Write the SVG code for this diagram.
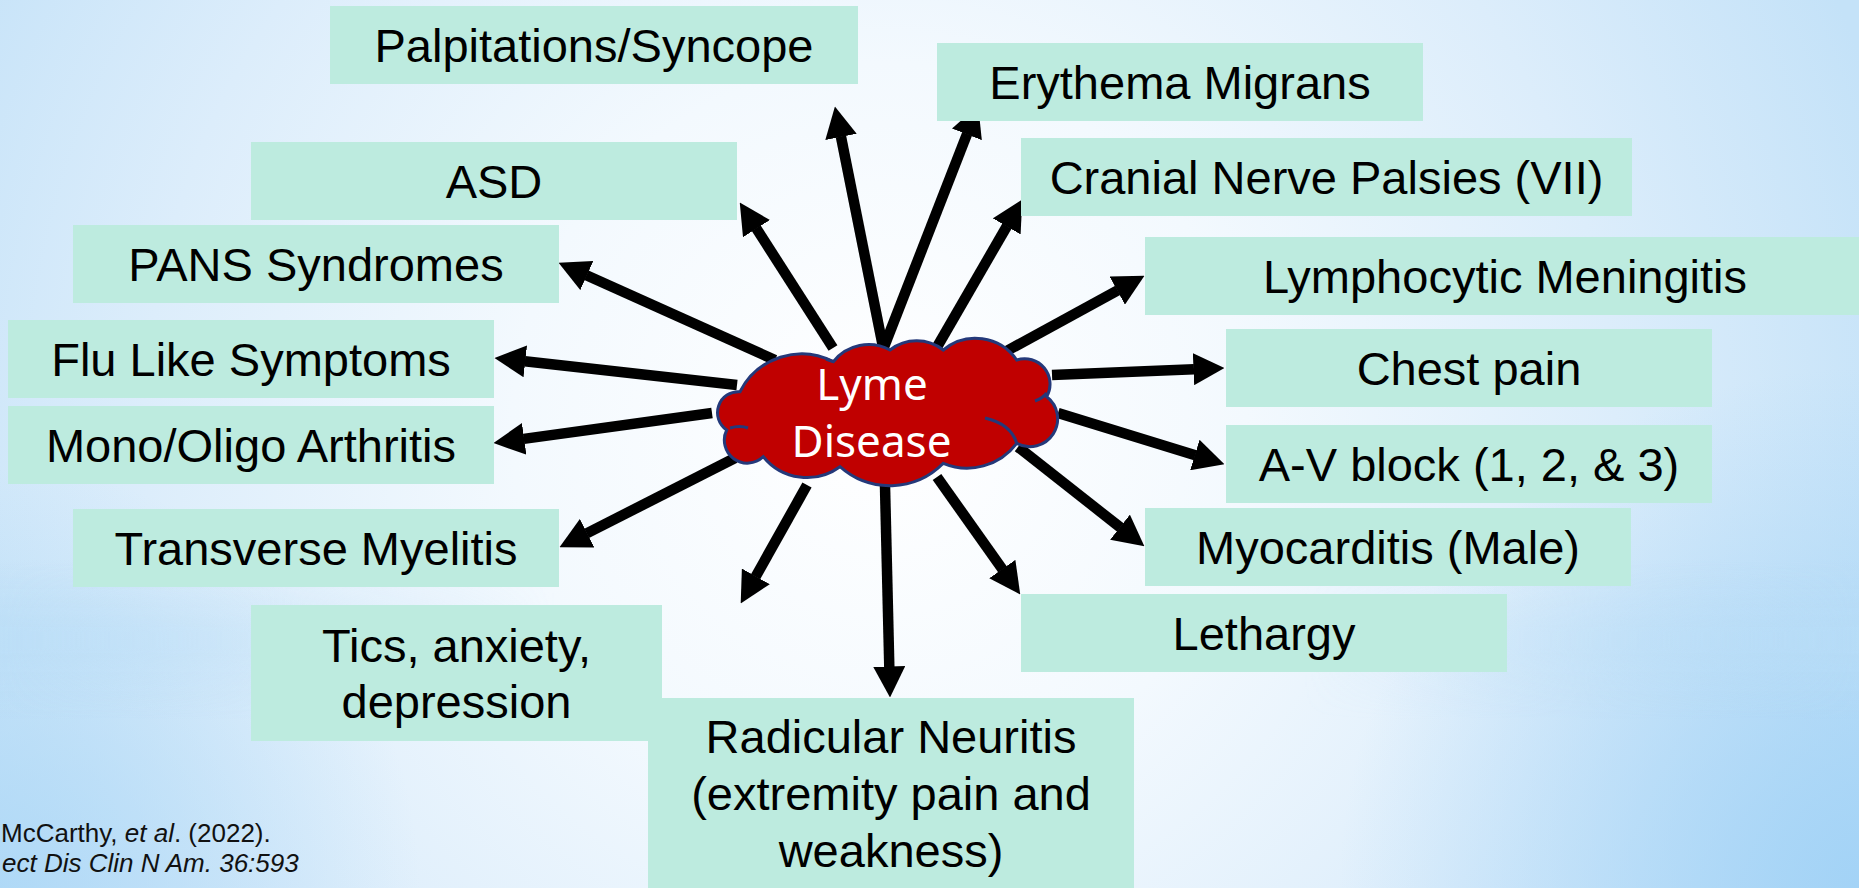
<svg xmlns="http://www.w3.org/2000/svg" width="1859" height="888" viewBox="0 0 1859 888">
  <defs>
    <radialGradient id="bg" gradientUnits="userSpaceOnUse" cx="880" cy="430" r="1050">
      <stop offset="0" stop-color="#ffffff"/>
      <stop offset="0.35" stop-color="#f3f9fe"/>
      <stop offset="0.7" stop-color="#dcedfb"/>
      <stop offset="1" stop-color="#c4e2f8"/>
    </radialGradient>
    <radialGradient id="br" gradientUnits="userSpaceOnUse" cx="1859" cy="888" r="520">
      <stop offset="0" stop-color="#9fd1f6" stop-opacity="0.9"/>
      <stop offset="1" stop-color="#9fd1f6" stop-opacity="0"/>
    </radialGradient>
    <radialGradient id="bl" gradientUnits="userSpaceOnUse" cx="0" cy="888" r="420">
      <stop offset="0" stop-color="#a9d6f6" stop-opacity="0.8"/>
      <stop offset="1" stop-color="#a9d6f6" stop-opacity="0"/>
    </radialGradient>
    <linearGradient id="band" x1="0" y1="0" x2="0" y2="1">
      <stop offset="0" stop-color="#b7dcf6" stop-opacity="0"/>
      <stop offset="0.45" stop-color="#b7dcf6" stop-opacity="0.55"/>
      <stop offset="0.55" stop-color="#b7dcf6" stop-opacity="0.55"/>
      <stop offset="1" stop-color="#b7dcf6" stop-opacity="0"/>
    </linearGradient>
    <linearGradient id="bandMask" x1="0" y1="0" x2="1" y2="0">
      <stop offset="0" stop-color="#fff" stop-opacity="1"/>
      <stop offset="0.3" stop-color="#fff" stop-opacity="0"/>
      <stop offset="0.7" stop-color="#fff" stop-opacity="0"/>
      <stop offset="1" stop-color="#fff" stop-opacity="1"/>
    </linearGradient>
    <mask id="edges">
      <rect x="0" y="0" width="1859" height="888" fill="url(#bandMask)"/>
    </mask>
    <marker id="arrow" markerUnits="userSpaceOnUse" markerWidth="31" markerHeight="32" viewBox="0 0 31 32" refX="0.5" refY="16" orient="auto">
      <path d="M0,0 L31,16 L0,32 Z" fill="#000"/>
    </marker>
    <style>
      .box { fill: #bdebdf; }
      .lbl { font-family: "Liberation Sans", Arial, sans-serif; font-size: 47px; fill: #000; text-anchor: middle; }
      .conn line { stroke: #000; stroke-width: 10.5; marker-end: url(#arrow); }
      .cloud { fill: #c00000; stroke: #24397a; stroke-width: 3; }
      .inner { fill: none; stroke: #24397a; stroke-width: 3; }
      .ctext { font-family: "Noto Sans", "Open Sans", sans-serif; font-size: 44px; fill: #fff; text-anchor: middle; }
      .cite { font-family: "Liberation Sans", Arial, sans-serif; font-size: 26px; fill: #111; }
    </style>
  </defs>

  <!-- background -->
  <rect x="0" y="0" width="1859" height="888" fill="url(#bg)"/>
  <rect x="0" y="0" width="1859" height="888" fill="url(#br)"/>
  <rect x="0" y="0" width="1859" height="888" fill="url(#bl)"/>
  <rect x="0" y="560" width="1859" height="160" fill="url(#band)" mask="url(#edges)"/>

  <!-- connectors -->
  <g id="connectors" class="conn">
    <line x1="883" y1="347" x2="840.9" y2="136.4"/>
    <line x1="884" y1="347" x2="967.1" y2="133.9"/>
    <line x1="833" y1="348" x2="756.2" y2="228.2"/>
    <line x1="937" y1="347" x2="1007" y2="226"/>
    <line x1="775" y1="360" x2="586.4" y2="275.3"/>
    <line x1="1003" y1="353" x2="1117.7" y2="290.4"/>
    <line x1="737" y1="385" x2="524.8" y2="361.3"/>
    <line x1="1052" y1="375" x2="1194" y2="369.2"/>
    <line x1="712" y1="413" x2="523.7" y2="438.9"/>
    <line x1="1058" y1="413" x2="1195.3" y2="455.2"/>
    <line x1="735" y1="458" x2="586.7" y2="533.4"/>
    <line x1="1018" y1="447" x2="1120.4" y2="527.5"/>
    <line x1="807" y1="485" x2="755.6" y2="576.8"/>
    <line x1="937" y1="477" x2="1002.6" y2="569.5"/>
    <line x1="885" y1="486" x2="889.3" y2="667"/>
  </g>

  <!-- center node -->
  <g id="lyme">
    <path class="cloud" d="M 726.7 430 A 21 21 0 0 1 740 391.7 A 69 69 0 0 1 833.3 361.7 A 45 45 0 0 1 890 350 A 43 43 0 0 1 943.3 350 A 50 50 0 0 1 1016.7 360 A 25.4 25.4 0 0 1 1046.7 396.7 A 27.8 27.8 0 0 1 1016.7 443.3 A 62 62 0 0 1 943.3 463.3 A 75 75 0 0 1 840 466.7 A 56 56 0 0 1 763.3 456.7 A 23 23 0 0 1 726.7 430 Z"/>
    <path class="inner" d="M 985 418 Q 1011 424 1016.7 443.3 M 730 428 Q 740 425 748 428 M 1035 401 Q 1043 398 1046.7 393 M 833.3 361.7 Q 829 360 826 359"/>
    <text class="ctext" x="872" y="400">Lyme</text>
    <text class="ctext" x="871.5" y="457">Disease</text>
  </g>

  <g id="palpitations">
    <rect class="box" x="330" y="6" width="528" height="78"/>
    <text class="lbl" x="594" y="62">Palpitations/Syncope</text>
  </g>
  <g id="erythema">
    <rect class="box" x="937" y="43" width="486" height="78"/>
    <text class="lbl" x="1180" y="99">Erythema Migrans</text>
  </g>
  <g id="asd">
    <rect class="box" x="251" y="142" width="486" height="78"/>
    <text class="lbl" x="494" y="198">ASD</text>
  </g>
  <g id="cranial">
    <rect class="box" x="1021" y="138" width="611" height="78"/>
    <text class="lbl" x="1326.5" y="194">Cranial Nerve Palsies (VII)</text>
  </g>
  <g id="pans">
    <rect class="box" x="73" y="225" width="486" height="78"/>
    <text class="lbl" x="316" y="281">PANS Syndromes</text>
  </g>
  <g id="lymphocytic">
    <rect class="box" x="1145" y="237" width="720" height="78"/>
    <text class="lbl" x="1505" y="293">Lymphocytic Meningitis</text>
  </g>
  <g id="flu">
    <rect class="box" x="8" y="320" width="486" height="78"/>
    <text class="lbl" x="251" y="376">Flu Like Symptoms</text>
  </g>
  <g id="chest">
    <rect class="box" x="1226" y="329" width="486" height="78"/>
    <text class="lbl" x="1469" y="385">Chest pain</text>
  </g>
  <g id="mono">
    <rect class="box" x="8" y="406" width="486" height="78"/>
    <text class="lbl" x="251" y="462">Mono/Oligo Arthritis</text>
  </g>
  <g id="avblock">
    <rect class="box" x="1226" y="425" width="486" height="78"/>
    <text class="lbl" x="1469" y="481">A-V block (1, 2, &amp; 3)</text>
  </g>
  <g id="transverse">
    <rect class="box" x="73" y="509" width="486" height="78"/>
    <text class="lbl" x="316" y="565">Transverse Myelitis</text>
  </g>
  <g id="myocarditis">
    <rect class="box" x="1145" y="508" width="486" height="78"/>
    <text class="lbl" x="1388" y="564">Myocarditis (Male)</text>
  </g>
  <g id="lethargy">
    <rect class="box" x="1021" y="594" width="486" height="78"/>
    <text class="lbl" x="1264" y="650">Lethargy</text>
  </g>
  <g id="tics">
    <rect class="box" x="251" y="605" width="411" height="136"/>
    <text class="lbl" x="456.5" y="662">Tics, anxiety,</text>
    <text class="lbl" x="456.5" y="718">depression</text>
  </g>
  <g id="radicular">
    <rect class="box" x="648" y="698" width="486" height="200"/>
    <text class="lbl" x="891" y="753">Radicular Neuritis</text>
    <text class="lbl" x="891" y="810">(extremity pain and</text>
    <text class="lbl" x="891" y="867">weakness)</text>
  </g>

  <g id="citation">
    <text class="cite" x="1" y="842">McCarthy, <tspan font-style="italic">et al</tspan>. (2022).</text>
    <text class="cite" x="2" y="872" font-style="italic">ect Dis Clin N Am. 36:593</text>
  </g>
</svg>
